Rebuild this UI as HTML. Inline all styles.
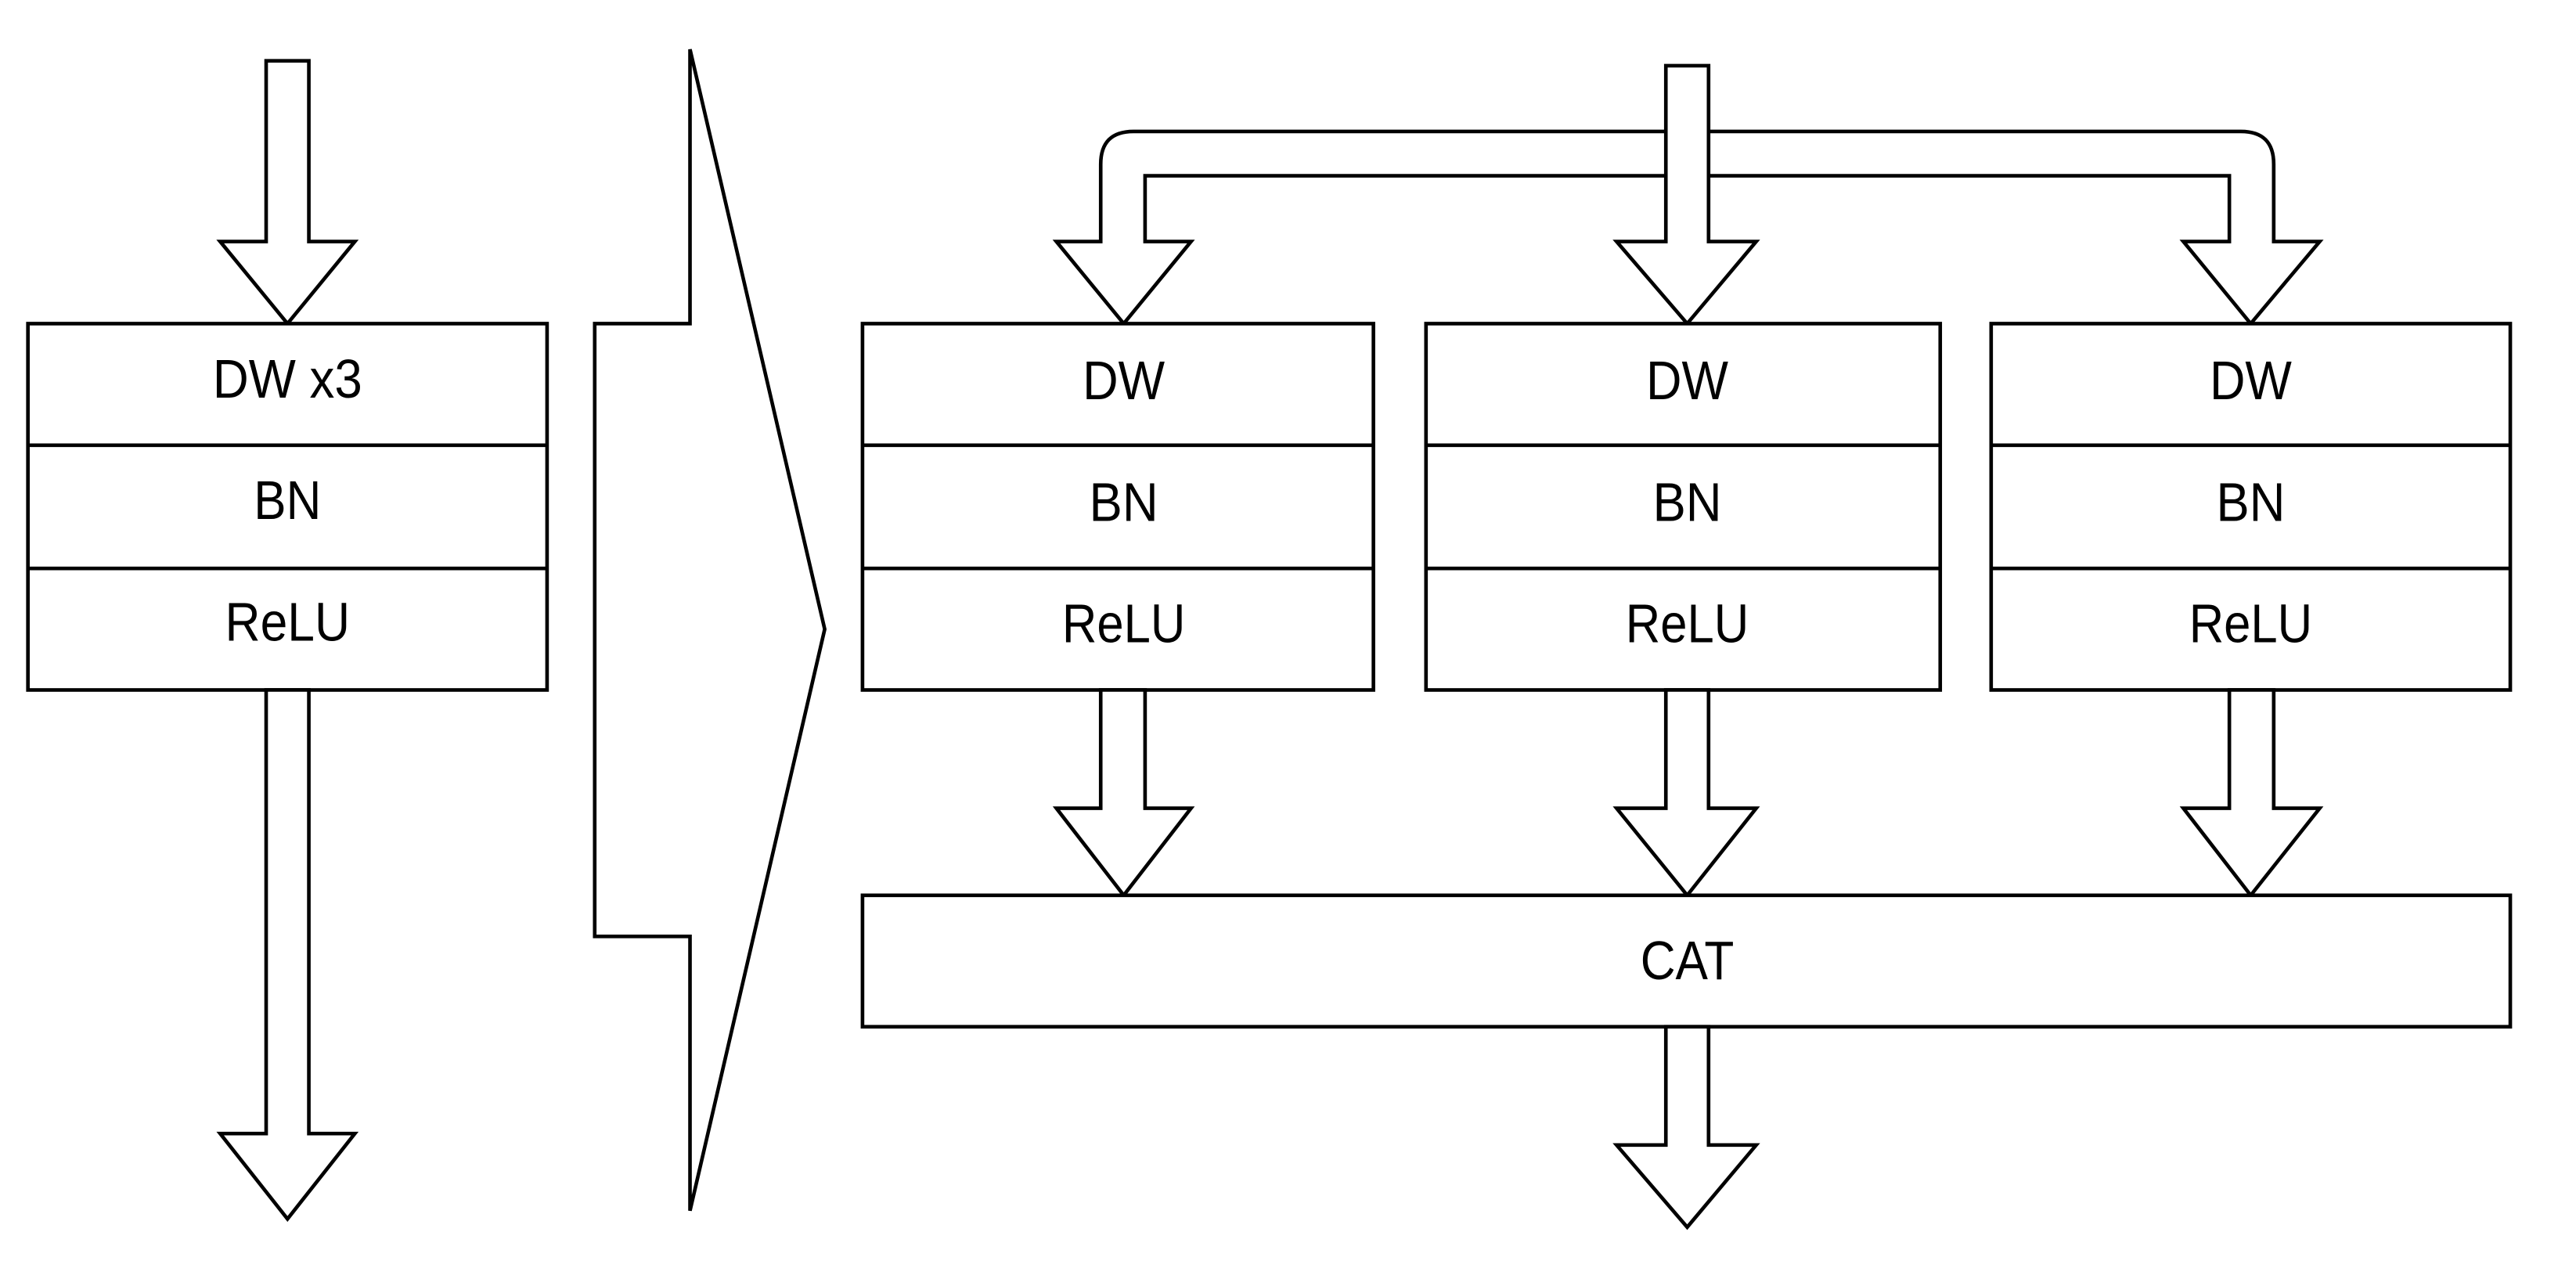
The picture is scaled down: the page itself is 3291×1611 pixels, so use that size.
<!DOCTYPE html>
<html><head><style>html,body{margin:0;padding:0;background:#fff}svg{display:block}</style></head>
<body>
<svg width="3291" height="1611" viewBox="0 0 1568 767.6" preserveAspectRatio="none" xmlns="http://www.w3.org/2000/svg">
<g fill="#fff" stroke="#000" stroke-width="2.2" stroke-linejoin="miter">
<!-- left column -->
<path d="M162,37 L188,37 L188,147 L216,147 L175,197 L134,147 L162,147 Z"/>
<rect x="17" y="197" width="316" height="223"/>
<line x1="17" y1="271" x2="333" y2="271"/>
<line x1="17" y1="346" x2="333" y2="346"/>
<path d="M162,420 L188,420 L188,690 L216,690 L175,742 L134,690 L162,690 Z"/>
<!-- big chevron -->
<path d="M420,30 L502,383 L420,737 L420,570 L362,570 L362,197 L420,197 Z"/>
<!-- branch band -->
<path d="M697,147 L697,107 L1357,107 L1357,147 L1329,147 L1370,197 L1412,147 L1384,147 L1384,100 Q1384,80 1364,80 L690,80 Q670,80 670,100 L670,147 L643,147 L684,197 L725,147 Z"/>
<path d="M1014,40 L1040,40 L1040,147 L1069,147 L1027,197 L984,147 L1014,147 Z"/>
<!-- boxes -->
<rect x="525" y="197" width="311" height="223"/>
<line x1="525" y1="271" x2="836" y2="271"/><line x1="525" y1="346" x2="836" y2="346"/>
<rect x="868" y="197" width="313" height="223"/>
<line x1="868" y1="271" x2="1181" y2="271"/><line x1="868" y1="346" x2="1181" y2="346"/>
<rect x="1212" y="197" width="316" height="223"/>
<line x1="1212" y1="271" x2="1528" y2="271"/><line x1="1212" y1="346" x2="1528" y2="346"/>
<!-- bottom arrows -->
<path d="M670,420 L697,420 L697,492 L725,492 L684,545 L643,492 L670,492 Z"/>
<path d="M1014,420 L1040,420 L1040,492 L1069,492 L1027,545 L984,492 L1014,492 Z"/>
<path d="M1357,420 L1384,420 L1384,492 L1412,492 L1370,545 L1329,492 L1357,492 Z"/>
<rect x="525" y="545" width="1003" height="80"/>
<path d="M1014,625 L1040,625 L1040,697 L1069,697 L1027,747 L984,697 L1014,697 Z"/>
</g>
<g font-family="Liberation Sans, Arial, sans-serif" font-size="33" text-anchor="middle" fill="#000">
<text x="175" y="242" textLength="91" lengthAdjust="spacingAndGlyphs">DW x3</text>
<text x="175" y="316" textLength="41" lengthAdjust="spacingAndGlyphs">BN</text>
<text x="175" y="390" textLength="76" lengthAdjust="spacingAndGlyphs">ReLU</text>
<text x="684" y="243" textLength="50" lengthAdjust="spacingAndGlyphs">DW</text>
<text x="684" y="317" textLength="42" lengthAdjust="spacingAndGlyphs">BN</text>
<text x="684" y="391" textLength="75" lengthAdjust="spacingAndGlyphs">ReLU</text>
<text x="1027" y="243" textLength="50" lengthAdjust="spacingAndGlyphs">DW</text>
<text x="1027" y="317" textLength="42" lengthAdjust="spacingAndGlyphs">BN</text>
<text x="1027" y="391" textLength="75" lengthAdjust="spacingAndGlyphs">ReLU</text>
<text x="1370" y="243" textLength="50" lengthAdjust="spacingAndGlyphs">DW</text>
<text x="1370" y="317" textLength="42" lengthAdjust="spacingAndGlyphs">BN</text>
<text x="1370" y="391" textLength="75" lengthAdjust="spacingAndGlyphs">ReLU</text>
<text x="1027" y="596" textLength="57" lengthAdjust="spacingAndGlyphs">CAT</text>
</g>
</svg>
</body></html>
